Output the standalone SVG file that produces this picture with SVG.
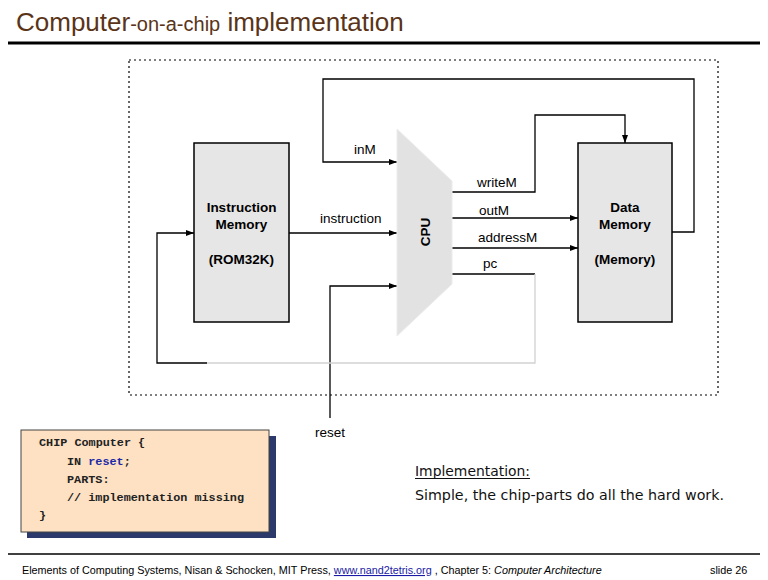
<svg xmlns="http://www.w3.org/2000/svg" width="768" height="580" viewBox="0 0 768 580">
<defs>
<marker id="arr" viewBox="0 0 8 6" refX="8" refY="3" markerWidth="8" markerHeight="6" markerUnits="userSpaceOnUse" orient="auto">
<path d="M0,0 L8,3 L0,6 Z" fill="#000"/>
</marker>
</defs>
<style>
.lbl{font-family:"Liberation Sans",Arial,sans-serif;font-size:13.5px;fill:#000}
.blk{font-family:"Liberation Sans",Arial,sans-serif;font-size:13.5px;font-weight:bold;fill:#000;text-anchor:middle}
.wire{fill:none;stroke:#000;stroke-width:1.3}
.gray{fill:none;stroke:#d2d2d2;stroke-width:1.3}
.mem{fill:#e6e6e6;stroke:#000;stroke-width:1.5}
.code{font-family:"Liberation Mono","Courier New",monospace;font-size:11.8px;font-weight:bold;fill:#222}
</style>
<rect width="768" height="580" fill="#fff"/>
<g id="title">
<text x="16" y="31" font-family="Liberation Sans,Arial,sans-serif" font-size="26" fill="#5a3418">Computer<tspan font-size="20">-on-a-chip</tspan> implementation</text>
<line x1="8" y1="43" x2="760" y2="43" stroke="#000" stroke-width="3"/>
</g>
<g id="boundary">
<rect x="129" y="60" width="589" height="335" fill="none" stroke="#000" stroke-width="1.2" stroke-dasharray="2,3"/>
</g>
<g id="connectors">
<path class="wire" d="M672,232 H694 V79 H323 V162 H397" marker-end="url(#arr)"/>
<path class="wire" d="M289,233 H397" marker-end="url(#arr)"/>
<path class="wire" d="M330,418 V286 H397" marker-end="url(#arr)"/>
<path class="wire" d="M452,192 H535 V115 H625 V143" marker-end="url(#arr)"/>
<path class="wire" d="M452,218 H578" marker-end="url(#arr)"/>
<path class="wire" d="M452,248 H578" marker-end="url(#arr)"/>
<path class="wire" d="M452,274 H535"/>
<path class="gray" d="M535,274 V363 H207"/>
<path class="wire" d="M207,363 H157 V233 H194" marker-end="url(#arr)"/>
<text class="lbl" x="354" y="154">inM</text>
<text class="lbl" x="320" y="223">instruction</text>
<text class="lbl" x="477" y="187">writeM</text>
<text class="lbl" x="479" y="215">outM</text>
<text class="lbl" x="478" y="242">addressM</text>
<text class="lbl" x="483" y="268">pc</text>
<text class="lbl" x="330" y="437" text-anchor="middle">reset</text>
</g>
<g id="instruction-memory">
<rect class="mem" x="194" y="143" width="95" height="179"/>
<text class="blk" x="241.5" y="212">Instruction</text>
<text class="blk" x="241.5" y="229">Memory</text>
<text class="blk" x="241.5" y="264">(ROM32K)</text>
</g>
<g id="cpu">
<polygon points="397,129 452,181 452,284 397,336" fill="#e2e2e2" stroke="#ececec" stroke-width="1"/>
<text class="blk" x="0" y="0" transform="translate(430,232) rotate(-90)">CPU</text>
</g>
<g id="data-memory">
<rect class="mem" x="578" y="143" width="94" height="179"/>
<text class="blk" x="625" y="212">Data</text>
<text class="blk" x="625" y="229">Memory</text>
<text class="blk" x="625" y="264">(Memory)</text>
</g>
<g id="code-box">
<rect x="27" y="436" width="249" height="102" fill="#2b3a6b"/>
<rect x="21" y="430" width="248" height="102" fill="#fde1c2" stroke="#444" stroke-width="1"/>
<text class="code" x="39" y="446">CHIP Computer {</text>
<text class="code" x="67" y="465">IN <tspan fill="#1c2aa8">reset</tspan>;</text>
<text class="code" x="67" y="483">PARTS:</text>
<text class="code" x="67" y="501">// implementation missing</text>
<text class="code" x="39" y="519">}</text>
</g>
<g id="note">
<text x="415" y="476" font-family="DejaVu Sans,sans-serif" font-size="14" fill="#111" textLength="115" lengthAdjust="spacingAndGlyphs">Implementation:</text>
<line x1="415" y1="478.5" x2="530" y2="478.5" stroke="#111" stroke-width="1"/>
<text x="415" y="500" font-family="DejaVu Sans,sans-serif" font-size="14" fill="#111" textLength="309" lengthAdjust="spacingAndGlyphs">Simple, the chip-parts do all the hard work.</text>
</g>
<g id="footer">
<line x1="8" y1="554" x2="760" y2="554" stroke="#000" stroke-width="1.5"/>
<text x="22" y="574" font-family="Liberation Sans,Arial,sans-serif" font-size="10.8" fill="#000">Elements of Computing Systems, Nisan &amp; Schocken, MIT Press, <tspan fill="#1a1aa6" text-decoration="underline">www.nand2tetris.org</tspan> , Chapter 5: <tspan font-style="italic">Computer Architecture</tspan></text>
<text x="710" y="574" font-family="Liberation Sans,Arial,sans-serif" font-size="10.8" fill="#000">slide 26</text>
</g>
</svg>
